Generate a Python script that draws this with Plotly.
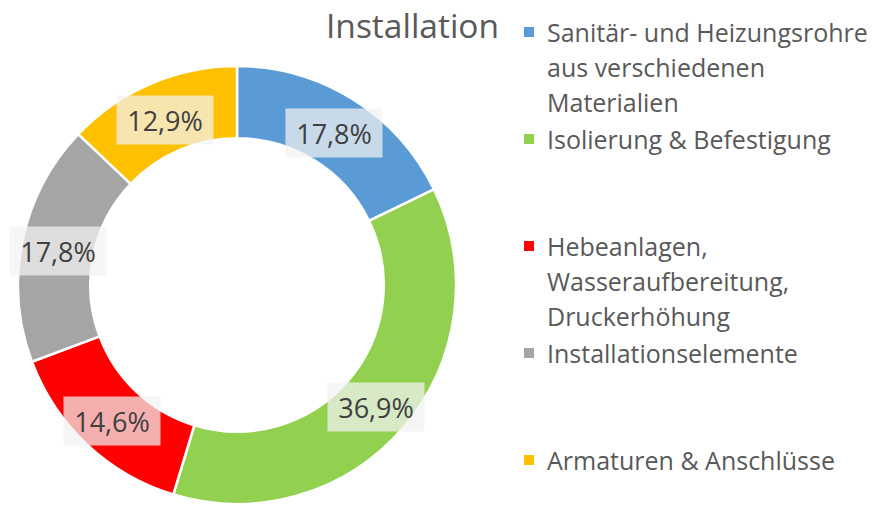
import math
import plotly.graph_objects as go

# ---- data ----
categories = [
    "Sanitär- und Heizungsrohre\naus verschiedenen\nMaterialien",
    "Isolierung & Befestigung",
    "Hebeanlagen,\nWasseraufbereitung,\nDruckerhöhung",
    "Installationselemente",
    "Armaturen & Anschlüsse",
]
values = [17.8, 36.9, 14.6, 17.8, 12.9]
colors = ["#5B9BD5", "#92D050", "#FF0000", "#A5A5A5", "#FFC000"]
title_text = "Installation"

# ---- layout constants ----
W, H = 872, 505
CX, CY, R = 237, 285, 219   # pie centre / radius in pixels
HOLE = 0.67
FONT = "Open Sans, Noto Sans, sans-serif"

fig = go.Figure()
fig.add_trace(go.Pie(
    labels=[c.replace("\n", " ") for c in categories],
    values=values,
    marker=dict(colors=colors, line=dict(color="white", width=2.5)),
    hole=HOLE,
    sort=False,
    direction="clockwise",
    rotation=0,
    textinfo="none",
    showlegend=False,
    domain=dict(x=[(CX - R) / W, (CX + R) / W], y=[(H - CY - R) / H, (H - CY + R) / H]),
))

annotations = []
shapes = []

# data labels at mid-ring
total = sum(values)
cum = 0.0
r_mid = R * (1 + HOLE) / 2
for v in values:
    frac = (cum + v / 2) / total
    ang = 2 * math.pi * frac
    px = CX + r_mid * math.sin(ang)
    py = CY - r_mid * math.cos(ang) + 3
    cum += v
    annotations.append(dict(
        x=px / W, y=1 - py / H, xref="paper", yref="paper",
        text=f"{v:.1f}".replace(".", ",") + "%",
        showarrow=False, font=dict(family=FONT, size=27, color="#404040"),
        bgcolor="rgba(242,242,242,0.72)", borderpad=6, width=84, height=36,
        xanchor="center", yanchor="middle",
    ))

# title
annotations.append(dict(
    x=412 / W, y=1 - 25 / H, xref="paper", yref="paper", text=title_text,
    showarrow=False, font=dict(family=FONT, size=33.5, color="#595959"),
    xanchor="center", yanchor="middle",
))

# legend (manual, uniform slots)
LEG_X_SQ, LEG_X_TXT = 524, 545
SLOT, LINE, Y0 = 107, 35, 32
for i, (cat, col) in enumerate(zip(categories, colors)):
    y = Y0 + i * SLOT
    shapes.append(dict(type="rect", xref="paper", yref="paper",
                       x0=LEG_X_SQ / W, x1=(LEG_X_SQ + 10) / W,
                       y0=1 - (y - 5) / H, y1=1 - (y + 5) / H,
                       fillcolor=col, line=dict(width=0)))
    for j, line in enumerate(cat.split("\n")):
        annotations.append(dict(
            x=LEG_X_TXT / W, y=1 - (y + j * LINE) / H, xref="paper", yref="paper",
            text=line, showarrow=False,
            font=dict(family=FONT, size=25, color="#595959"),
            xanchor="left", yanchor="middle",
        ))

fig.update_layout(
    width=W, height=H,
    margin=dict(l=0, r=0, t=0, b=0),
    paper_bgcolor="white", plot_bgcolor="white",
    annotations=annotations, shapes=shapes,
)

fig.write_html("out.html", config={"displayModeBar": False},
               post_script="document.body.style.margin='0';")
